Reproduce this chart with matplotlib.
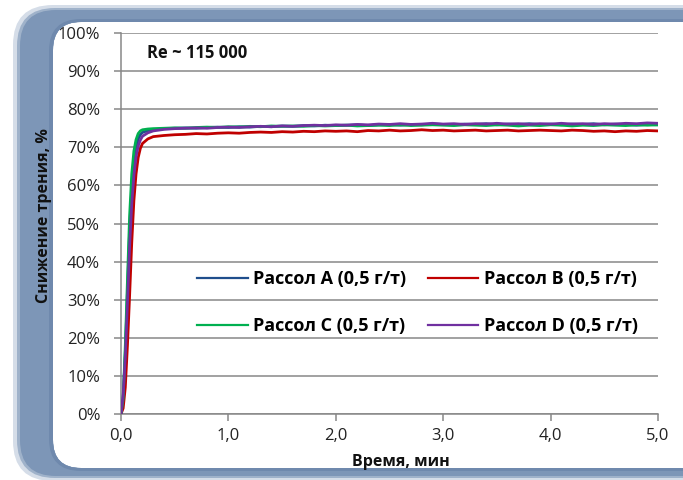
import matplotlib
matplotlib.use("Agg")
import matplotlib.pyplot as plt
from matplotlib.patches import FancyBboxPatch, PathPatch
from matplotlib.path import Path
from matplotlib.transforms import Affine2D
from matplotlib.lines import Line2D
from matplotlib.ticker import FuncFormatter

plt.rcParams['font.family'] = ['Open Sans', 'DejaVu Sans']

# time, min
times = [0.0, 0.02, 0.04, 0.06, 0.08, 0.10, 0.12, 0.14, 0.16, 0.18, 0.20, 0.25,
         0.3, 0.4, 0.5, 0.6, 0.7, 0.8, 0.9, 1.0, 1.1, 1.2, 1.3, 1.4, 1.5, 1.6,
         1.7, 1.8, 1.9, 2.0, 2.1, 2.2, 2.3, 2.4, 2.5, 2.6, 2.7, 2.8, 2.9, 3.0,
         3.1, 3.2, 3.3, 3.4, 3.5, 3.6, 3.7, 3.8, 3.9, 4.0, 4.1, 4.2, 4.3, 4.4,
         4.5, 4.6, 4.7, 4.8, 4.9, 5.0]

# friction reduction, %
brine_a = [0, 4, 16, 32, 48, 59, 66, 70, 72.2, 73.3, 73.9, 74.4,
           74.6, 74.9, 75.0, 75.1, 75.0, 75.2, 75.3, 75.2, 75.4, 75.3, 75.5, 75.4, 75.6, 75.5,
           75.7, 75.6, 75.8, 75.7, 75.8, 75.9, 75.7, 75.9, 76.0, 75.8, 76.0, 75.9, 76.1, 76.0,
           75.9, 76.1, 76.0, 76.2, 75.9, 76.1, 76.0, 76.2, 76.0, 76.1, 75.9, 76.1, 76.0, 76.2,
           75.9, 76.1, 76.0, 75.8, 76.0, 75.9]
brine_b = [0, 1.5, 7, 18, 31, 45, 56, 63, 67.3, 69.7, 71.0, 72.2,
           72.8, 73.1, 73.3, 73.4, 73.6, 73.5, 73.7, 73.8, 73.7, 73.9, 74.0, 73.9, 74.1, 74.0,
           74.2, 74.1, 74.3, 74.2, 74.3, 74.1, 74.4, 74.3, 74.5, 74.3, 74.4, 74.6, 74.4, 74.5,
           74.3, 74.4, 74.5, 74.3, 74.4, 74.5, 74.3, 74.4, 74.5, 74.4, 74.3, 74.5, 74.4, 74.2,
           74.3, 74.1, 74.3, 74.2, 74.4, 74.3]
brine_c = [0, 4, 18, 35, 52, 63, 69, 72, 73.6, 74.3, 74.6, 74.8,
           74.9, 75.0, 75.1, 75.0, 75.2, 75.3, 75.2, 75.4, 75.3, 75.5, 75.4, 75.6, 75.5, 75.6,
           75.5, 75.7, 75.6, 75.7, 75.8, 75.6, 75.7, 75.8, 75.7, 75.9, 75.7, 75.8, 75.9, 75.8,
           75.7, 75.9, 75.8, 75.7, 75.9, 75.8, 75.6, 75.8, 75.7, 75.9, 75.8, 75.6, 75.8, 75.7,
           75.9, 75.8, 75.7, 75.9, 75.8, 75.9]
brine_d = [0, 5, 15, 29, 44, 55, 62.5, 67.5, 70.3, 71.9, 72.9, 73.8,
           74.3, 74.7, 74.9, 75.0, 75.1, 75.0, 75.2, 75.3, 75.2, 75.4, 75.5, 75.4, 75.6, 75.5,
           75.7, 75.8, 75.7, 75.9, 75.8, 76.0, 75.9, 76.1, 76.0, 76.2, 76.0, 76.1, 76.3, 76.1,
           76.2, 76.0, 76.2, 76.1, 76.3, 76.1, 76.2, 76.0, 76.2, 76.1, 76.3, 76.1, 76.2, 76.0,
           76.2, 76.1, 76.3, 76.2, 76.4, 76.3]

labels = ["Рассол A (0,5 г/т)", "Рассол B (0,5 г/т)",
          "Рассол C (0,5 г/т)", "Рассол D (0,5 г/т)"]
colors = ["#1f4e8c", "#c00000", "#00b050", "#7030a0"]

W, H = 683, 480
fig = plt.figure(figsize=(W / 100, H / 100), dpi=100, facecolor="white")


def rounded(x0, y0, w, h, r):
    p = FancyBboxPatch((x0, y0), w, h, boxstyle=f"round,pad=0,rounding_size={r}")
    return p.get_path().to_polygons(closed_only=True)[0]


# frame as bands with a hole (pixel coords, y down), drawn over everything
px = Affine2D().scale(1 / W, -1 / H).translate(0, 1) + fig.transFigure
hole = rounded(53, 22, 680, 446, 28)[::-1]
frame = [
    ((13, 5, 720, 476), 40, "#d5dde8"),
    ((17, 8, 716, 470), 38, "#9fb2ca"),
    ((20, 10, 713, 466), 36, "#7d96b7"),
    ((49, 19, 684, 452), 32, "#6f89ad"),
]
for (x0, y0, w, h), r, fc in frame:
    outer = rounded(x0, y0, w, h, r)
    band = Path.make_compound_path(Path(outer, closed=True), Path(hole, closed=True))
    fig.patches.append(PathPatch(band, fc=fc, ec="none", transform=px, zorder=5))

ax = fig.add_axes([121 / W, 1 - 414 / H, 537 / W, 381 / H])
ax.set_facecolor("none")

series = [brine_a, brine_b, brine_c, brine_d]
for vals, col in zip(series, colors):
    ax.plot(times, vals, color=col, lw=2.0, zorder=3)

ax.set_xlim(0, 5)
ax.set_ylim(0, 100)
ax.set_xticks([0, 1, 2, 3, 4, 5])
ax.set_yticks(range(0, 101, 10))
ax.xaxis.set_major_formatter(FuncFormatter(lambda v, p: f"{v:.1f}".replace(".", ",")))
ax.yaxis.set_major_formatter(FuncFormatter(lambda v, p: f"{v:.0f}%"))
ax.grid(axis="y", color="#878787", lw=1.1)
ax.set_axisbelow(True)
for s in ["top", "right"]:
    ax.spines[s].set_visible(False)
for s in ["left", "bottom"]:
    ax.spines[s].set_color("#878787")
    ax.spines[s].set_linewidth(1.1)
ax.tick_params(axis="y", length=5, width=1.1, color="#878787", pad=10,
               labelsize=12, labelcolor="#222222")
ax.tick_params(axis="x", length=5, width=1.1, color="#878787", pad=5,
               labelsize=12, labelcolor="#222222")

fig.text(44 / W, 1 - 216 / H, "Снижение трения, %", rotation=90, ha="center",
         va="center", fontsize=11.5, fontweight="bold", color="#111111", zorder=10)
fig.text(401 / W, 1 - 462 / H, "Время, мин", ha="center", va="center",
         fontsize=11.5, fontweight="bold", color="#111111", zorder=10)
fig.text(147 / W, 1 - 53 / H, "Re ~ 115 000", ha="left", va="center",
         fontsize=12, fontweight="bold", color="#111111", zorder=10)

handles = [Line2D([], [], color=c, lw=1.6) for c in colors]
order = [0, 2, 1, 3]
ax.legend([handles[i] for i in order], [labels[i] for i in order], ncol=2,
          loc="upper left", bbox_to_anchor=(197 / W, 1 - 270 / H),
          bbox_transform=fig.transFigure, frameon=False, borderpad=0,
          borderaxespad=0, handlelength=2.8, handletextpad=0.3,
          columnspacing=1.2, labelspacing=1.6,
          prop={"size": 13, "weight": "bold"})

fig.savefig("out.png", dpi=100)
